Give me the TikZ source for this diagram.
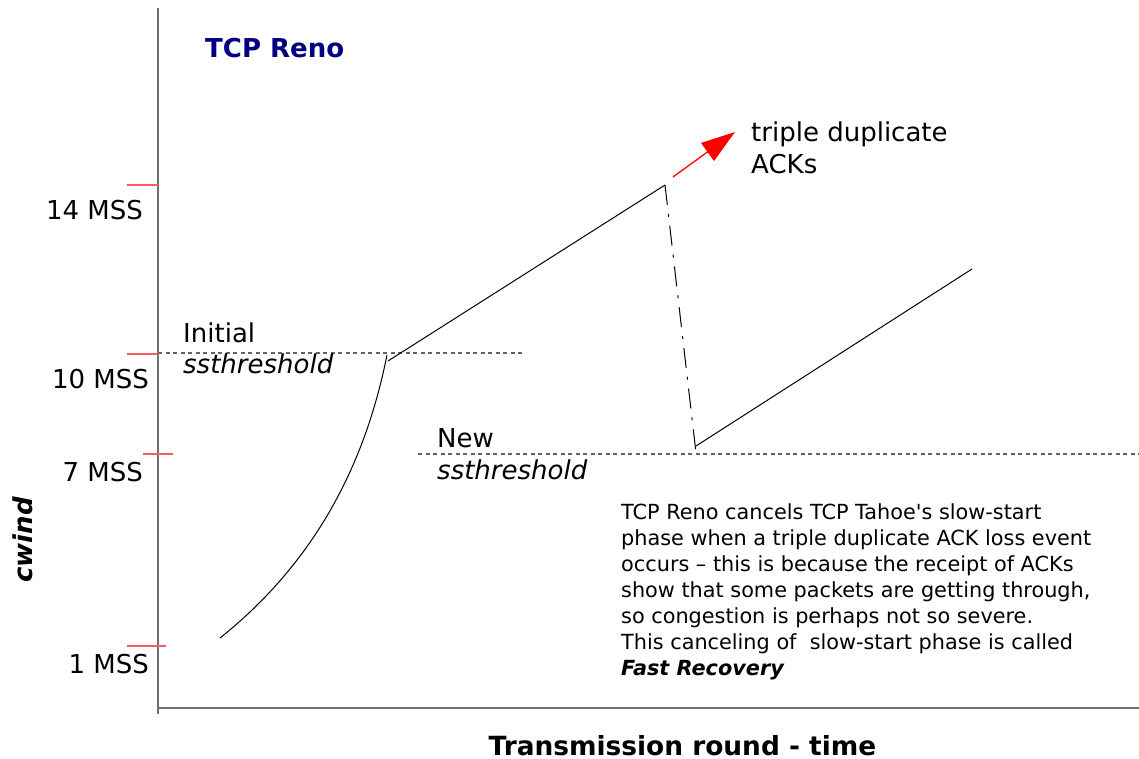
\documentclass[tikz,border=0pt]{standalone}
\usepackage{fontspec}
\setmainfont{DejaVu Sans}
\usetikzlibrary{arrows.meta}
\definecolor{navyblue}{RGB}{0,0,128}
\definecolor{tickred}{RGB}{255,90,90}
\definecolor{axisgray}{RGB}{112,112,112}
\definecolor{dashgray}{RGB}{100,100,100}
\tikzset{
  lbl/.style={inner sep=0pt, font=\fontsize{26}{32}\selectfont},
  tickmark/.style={draw=tickred, line width=1.3pt},
  axisline/.style={draw=axisgray, line width=1.6pt},
  thresh/.style={draw=dashgray, line width=1.2pt, dash pattern=on 4pt off 3.5pt},
  cwline/.style={draw=black, line width=1pt},
  lossline/.style={draw=black, line width=1pt, dash pattern=on 20pt off 9pt on 3pt off 9pt},
}
\begin{document}
\begin{tikzpicture}[x=1pt,y=-1pt]
\useasboundingbox (0,0) rectangle (1139,759);
% axes
\coordinate (ytop) at (158,8);
\coordinate (ybot) at (158,714);
\coordinate (xl) at (158,708);
\coordinate (xr) at (1139,708);
\draw[axisline] (ytop) -- (ybot);
\draw[axisline] (xl) -- (xr);
% ticks
\coordinate (t14a) at (127,185); \coordinate (t14b) at (158,185);
\coordinate (t10a) at (127,354); \coordinate (t10b) at (158,354);
\coordinate (t7a) at (143,454); \coordinate (t7b) at (173,454);
\coordinate (t1a) at (127,646); \coordinate (t1b) at (166,646);
\draw[tickmark] (t14a) -- (t14b);
\draw[tickmark] (t10a) -- (t10b);
\draw[tickmark] (t7a) -- (t7b);
\draw[tickmark] (t1a) -- (t1b);
% tick labels
\node[lbl, anchor=base east] (l14) at (143,220) {14 MSS};
\node[lbl, anchor=base east] (l10) at (149,388) {10 MSS};
\node[lbl, anchor=base east] (l7) at (143,481) {7 MSS};
\node[lbl, anchor=base east] (l1) at (149,673) {1 MSS};
% axis titles
\node[lbl, anchor=base, rotate=90, font=\fontsize{26}{32}\selectfont\bfseries\itshape] (cw) at (32,540) {cwind};
\node[lbl, anchor=base, text depth=0pt, font=\fontsize{26.4}{32}\selectfont\bfseries] (xt) at (682.5,755) {Transmission round - time};
\node[lbl, anchor=base west, text=navyblue, font=\fontsize{26}{32}\selectfont\bfseries] (title) at (205,58) {TCP Reno};
% thresholds
\coordinate (it1) at (158,353); \coordinate (it2) at (525,353);
\coordinate (nt1) at (418,454); \coordinate (nt2) at (1139,454);
\draw[thresh] (it1) -- (it2);
\draw[thresh] (nt1) -- (nt2);
\node[lbl, anchor=base west] (ini1) at (183,342) {Initial};
\node[lbl, anchor=base west, font=\fontsize{26}{32}\selectfont\itshape] (ini2) at (183,373) {ssthreshold};
\node[lbl, anchor=base west] (new1) at (437,447) {New};
\node[lbl, anchor=base west, font=\fontsize{26}{32}\selectfont\itshape] (new2) at (437,479) {ssthreshold};
% cwnd curve
\coordinate (s0) at (220,638);
\coordinate (s1) at (387,355);
\coordinate (c0) at (388,361);
\coordinate (c1) at (665,185);
\coordinate (d1) at (696,453);
\coordinate (r0) at (696,446);
\coordinate (r1) at (972,269);
\draw[cwline] (s0) .. controls (315,562) and (365,465) .. (s1);
\draw[cwline] (c0) -- (c1);
\draw[lossline] (c1) -- (d1);
\draw[cwline] (r0) -- (r1);
% red arrow
\coordinate (a0) at (673,177);
\coordinate (a1) at (735,132);
\draw[red, line width=1.3pt, -{Triangle[length=34pt,width=22pt]}] (a0) -- (a1);
\node[lbl, anchor=base west] (td1) at (751,142) {triple duplicate};
\node[lbl, anchor=base west] (td2) at (751,174) {ACKs};
% paragraph
\node[inner sep=0pt, anchor=north west, align=left, font=\fontsize{20.8}{26}\selectfont] (para) at (621,503.5) {TCP Reno cancels TCP Tahoe\textquotesingle s slow-start\\
phase when a triple duplicate ACK loss event\\
occurs – this is because the receipt of ACKs\\
show that some packets are getting through,\\
so congestion is perhaps not so severe.\\
This canceling of\ \ slow-start phase is called\\
\textbf{\textit{Fast Recovery}}};
\end{tikzpicture}
\end{document}
